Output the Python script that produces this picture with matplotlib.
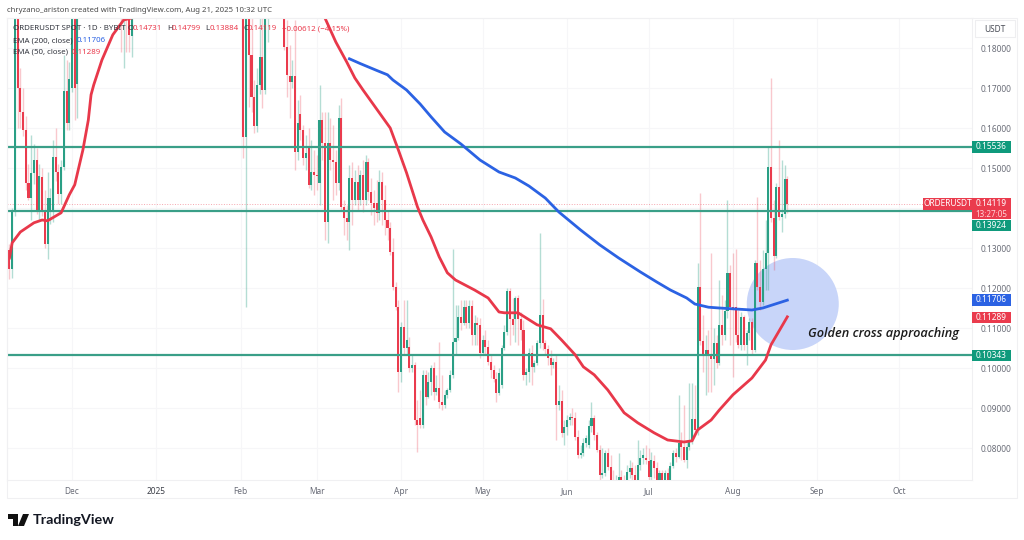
import matplotlib
matplotlib.use('Agg')
import matplotlib.pyplot as plt
import numpy as np
from matplotlib.patches import Circle, Ellipse, Rectangle, Polygon

plt.rcParams['font.family'] = ['Noto Sans', 'DejaVu Sans']

# candles, day numbers counted from 1 Dec 2024. Days above the visible price range are left out.
days = list(range(-23, 3)) + list(range(18, 23)) + list(range(63, 73)) + list(range(78, 264))

opens_a = [.1297,.1248,.1397,.1950,.1700,.1640,.1597,.1464,.1427,.1489,.1522,.1397,.1479,.1397,.1310,.1397,.1397,.1529,.1492,.1437,.1504,.1693,.1614,.1701,.1900,.1710]
closes_a = [.1248,.1397,.1950,.1700,.1640,.1597,.1464,.1427,.1489,.1522,.1397,.1482,.1397,.1310,.1427,.1427,.1529,.1492,.1437,.1504,.1693,.1614,.1723,.1900,.1701,.1950]
highs_a = [.1310,.1402,.2000,.1970,.1750,.1700,.1630,.1510,.1584,.1560,.1550,.1510,.1502,.1447,.1492,.1450,.1571,.1601,.1510,.1520,.1783,.1771,.1766,.1920,.1920,.2000]
lows_a = [.1223,.1226,.1380,.1600,.1600,.1580,.1447,.1422,.1372,.1460,.1385,.1372,.1382,.1302,.1273,.1360,.1367,.1468,.1410,.1410,.1497,.1596,.1596,.1691,.1621,.1626]

opens_b = [.2000,.1950,.1980,.1950,.1830]
closes_b = [.1950,.1980,.1950,.1833,.1950]
highs_b = [.2050,.2050,.2050,.2000,.2000]
lows_b = [.1791,.1751,.1791,.1791,.1778]

opens_c = [.2000,.1579,.2000,.1783,.1678,.1606,.1708,.1778,.1696,.1950]
closes_c = [.1579,.2000,.1783,.1678,.1606,.1708,.1778,.1696,.1950,.1980]
highs_c = [.2000,.2100,.2000,.1900,.1720,.1750,.1900,.1900,.2000,.2000]
lows_c = [.1527,.1153,.1653,.1640,.1589,.1590,.1685,.1651,.1685,.1815]

opens_d = [.2000,.1804,.1731,.1716,.1731,.1541,.1636,.1596,.1526,.1551,.1459,.1491,.1484,.1464,.1621,.1564,.1366,.1564,.1521,.1516,.1464,.1626,.1404,.1376,.1366,
 .1476,.1421,.1466,.1421,.1484,.1421,.1516,.1441,.1414,.1414,.1389,.1466,.1421,.1371,.1351,.1291,.1204,.1154,.0991,.1104,.1051,.1054,.1001,.1009,.0871,
 .0876,.0859,.0984,.0929,.0966,.1001,.0941,.0951,.0916,.0909,.0934,.0946,.0984,.1066,.1076,.1129,.1114,.1154,.1114,.1156,.1084,.1114,.1109,.1039,.1071,
 .1054,.1016,.0996,.0974,.0939,.0959,.1051,.1091,.1194,.1124,.1124,.1176,.1124,.1096,.0984,.0991,.1039,.1004,.1014,.1064,.1134,.1064,.1049,.1026,.1009,
 .1016,.0909,.0919,.0839,.0854,.0871,.0879,.0876,.0829,.0784,.0789,.0814,.0809,.0856,.0876,.0834,.0796,.0734,.0739,.0789,.0754,.0709,.0701,.0709,.0729,
 .0709,.0701,.0741,.0751,.0734,.0709,.0759,.0776,.0776,.0769,.0729,.0769,.0751,.0709,.0739,.0721,.0739,.0709,.0756,.0789,.0779,.0814,.0804,.0771,.0804,
 .0821,.0874,.0846,.1204,.1069,.1034,.1046,.1031,.1024,.1064,.1014,.1109,.1084,.1144,.1239,.1154,.1154,.1084,.1059,.1129,.1059,.1089,.1116,.1046,.1264,
 .1204,.1166,.1249,.1289,.1504,.1376,.1281,.1454,.1379,.1386,.14731]
closes_d = [.1804,.1733,.1716,.1731,.1541,.1614,.1596,.1526,.1539,.1459,.1491,.1484,.1481,.1621,.1564,.1366,.1564,.1521,.1516,.1464,.1626,.1404,.1376,.1366,.1476,
 .1421,.1466,.1421,.1484,.1421,.1516,.1441,.1414,.1401,.1389,.1466,.1421,.1371,.1351,.1291,.1204,.1154,.0991,.1104,.1051,.1071,.1001,.1009,.0871,.0859,
 .0859,.0984,.0929,.0966,.1001,.0941,.0951,.0916,.0909,.0934,.0946,.0984,.1066,.1076,.1129,.1114,.1154,.1114,.1156,.1084,.1114,.1109,.1039,.1071,.1054,
 .1016,.0996,.0974,.0939,.0989,.1051,.1091,.1194,.1124,.1109,.1176,.1124,.1096,.0984,.0991,.1039,.1004,.1014,.1064,.1134,.1064,.1049,.1026,.1009,.1016,
 .0909,.0919,.0839,.0854,.0871,.0879,.0876,.0829,.0784,.0789,.0814,.0826,.0856,.0876,.0834,.0796,.0734,.0739,.0789,.0754,.0709,.0701,.0709,.0729,.0709,
 .0701,.0741,.0751,.0734,.0709,.0759,.0776,.0784,.0771,.0729,.0771,.0751,.0709,.0739,.0721,.0739,.0709,.0756,.0789,.0779,.0814,.0804,.0771,.0804,.0821,
 .0874,.0846,.1204,.1069,.1034,.1046,.1031,.1024,.1064,.1014,.1109,.1084,.1144,.1239,.1154,.1146,.1084,.1059,.1129,.1059,.1089,.1116,.1046,.1264,.1204,
 .1166,.1249,.1289,.1504,.1376,.1281,.1454,.1379,.1386,.1474,.14119]
highs_d = [.2000,.1871,.1809,.1771,.1871,.1671,.1684,.1609,.1584,.1601,.1571,.1546,.1534,.1709,.1641,.1641,.1641,.1626,.1609,.1546,.1659,.1676,.1421,.1409,.1509,
 .1516,.1496,.1509,.1496,.1521,.1534,.1526,.1476,.1446,.1471,.1496,.1491,.1459,.1396,.1366,.1326,.1216,.1171,.1116,.1171,.1171,.1079,.1034,.1016,.0921,
 .0946,.0996,.0996,.0991,.1009,.1016,.0984,.1066,.0984,.0946,.0951,.0996,.1299,.1159,.1159,.1171,.1171,.1171,.1171,.1171,.1134,.1129,.1126,.1084,.1096,
 .1071,.1034,.1009,.0991,.1001,.1059,.1109,.1201,.1201,.1176,.1181,.1184,.1141,.1121,.1001,.1051,.1059,.1021,.1071,.1339,.1174,.1071,.1059,.1046,.1026,
 .1034,.0959,.0946,.0871,.0884,.0889,.0901,.0891,.0846,.0809,.0826,.0834,.0871,.0916,.0884,.0841,.0809,.0801,.0796,.0801,.0784,.0746,.0734,.0789,.0746,
 .0734,.0759,.0771,.0766,.0759,.0821,.0796,.0801,.0809,.0801,.0791,.0784,.0766,.0746,.0746,.0746,.0751,.0766,.0796,.0801,.0934,.0841,.0909,.0821,.0964,
 .0964,.0959,.1264,.1439,.1134,.1084,.1096,.1289,.1101,.1084,.1221,.1184,.1171,.1421,.1259,.1289,.1299,.1146,.1141,.1134,.1096,.1126,.1126,.1271,.1429,
 .1271,.1296,.1371,.1554,.1726,.1421,.1464,.1571,.1521,.1509,.14799]
lows_d = [.1796,.1679,.1626,.1701,.1496,.1521,.1571,.1509,.1496,.1451,.1446,.1434,.1446,.1409,.1521,.1321,.1314,.1496,.1421,.1434,.1446,.1396,.1334,.1321,.1296,
 .1359,.1409,.1396,.1409,.1391,.1409,.1421,.1384,.1359,.1366,.1371,.1359,.1334,.1321,.1284,.1196,.1146,.0941,.0966,.1034,.1034,.0991,.0991,.0859,.0791,
 .0851,.0851,.0909,.0926,.0934,.0921,.0934,.0901,.0896,.0901,.0926,.0941,.0976,.1034,.1071,.1096,.1109,.1101,.1101,.1059,.1059,.1059,.1026,.1034,.1034,
 .1009,.0976,.0966,.0916,.0934,.0951,.1046,.1084,.1059,.1084,.1066,.1059,.1071,.0971,.0959,.0966,.0959,.0991,.1009,.1051,.1046,.1034,.1009,.0984,.1001,
 .0821,.0896,.0829,.0809,.0834,.0859,.0859,.0821,.0776,.0776,.0781,.0804,.0801,.0841,.0821,.0791,.0721,.0726,.0731,.0746,.0696,.0684,.0684,.0696,.0696,
 .0684,.0696,.0726,.0721,.0696,.0701,.0746,.0761,.0761,.0721,.0721,.0726,.0696,.0701,.0709,.0709,.0696,.0701,.0751,.0766,.0776,.0771,.0766,.0751,.0796,
 .0811,.0841,.0834,.1059,.0991,.0934,.0941,.0941,.0959,.1001,.1009,.1059,.1071,.1126,.1059,.0979,.1066,.1051,.1046,.1046,.1009,.1071,.1034,.1041,.1196,
 .1146,.1159,.1196,.1196,.1366,.1246,.1276,.1371,.1341,.1376,.13884]

ema50_days = [-23,-22,-19,-14,-11,-9,-4,-1,1,4,6,7,8,11,15,19,22,40,70,85,93,97,101,104,107,113,117,120,123,127,129,132,135,138,141,148,153,157,159,164,171,176,180,185,188,192,197,203,208,214,219,225,228,230,235,238,243,250,255,257,263]
ema50_vals = [.1276,.1314,.1341,.1364,.1371,.1369,.1389,.1434,.1459,.1546,.1621,.1684,.1709,.1771,.1834,.1871,.1876,.2150,.2250,.1950,.1876,.1816,.1766,.1726,.1696,.1639,.1601,.1546,.1489,.1404,.1371,.1329,.1279,.1239,.1221,.1196,.1176,.1141,.1139,.1139,.1109,.1099,.1071,.1034,.1004,.0984,.0946,.0889,.0864,.0839,.0821,.0816,.0819,.0846,.0871,.0896,.0934,.0976,.1021,.1059,.11289]
ema200_days = [102,106,112,116,118,123,128,132,137,143,150,157,163,168,174,179,187,194,201,209,215,220,226,229,234,238,250,254,263]
ema200_vals = [.1774,.1762,.1745,.1734,.1721,.1696,.1661,.1629,.1591,.1561,.1521,.1491,.1476,.1456,.1426,.1391,.1346,.1309,.1276,.1241,.1216,.1196,.1176,.1161,.1153,.1151,.1146,.1151,.11706]

level_prices = [.15536, .13924, .10343]
level_labels = ['0.15536', '0.13924', '0.10343']
last_price = .14119

month_days = [0, 31, 62, 90, 121, 151, 182, 212, 243, 274, 304]
month_labels = ['Dec', '2025', 'Feb', 'Mar', 'Apr', 'May', 'Jun', 'Jul', 'Aug', 'Sep', 'Oct']
price_ticks = [.08, .09, .10, .11, .12, .13, .14, .15, .16, .17, .18]

GREEN = '#2a9f85'
LEVEL = '#3a9f88'
RED = '#ea3b4d'
BLUE = '#2b62e3'
EMA_RED = '#e8384a'
GREY = '#6a6d78'

W, H = 1024, 540


def px_text(x, y, s, **kw):
    # place text on the figure by reference pixel, y measured from the top
    kw.setdefault('fontsize', 5.7)
    kw.setdefault('va', 'center')
    return fig.text(x / W, 1 - y / H, s, **kw)


def price_tag(y_top, y_bot, text, color, x0=972, x1=1011):
    fig.add_artist(Rectangle((x0 / W, 1 - y_bot / H), (x1 - x0) / W, (y_bot - y_top) / H,
                             transform=fig.transFigure, color=color, zorder=5, lw=0))
    px_text((x0 + x1) / 2, (y_top + y_bot) / 2, text, color='white', ha='center', zorder=6, fontsize=6)


fig = plt.figure(figsize=(W / 100, H / 100), dpi=100)
ax = fig.add_axes([7 / W, 1 - 480 / H, 965 / W, 462 / H])
ax.set_xlim(-23.9, 330.9)
ax.set_ylim(.0721, .1876)

o = np.array(opens_a + opens_b + opens_c + opens_d)
c = np.array(closes_a + closes_b + closes_c + closes_d)
h = np.array(highs_a + highs_b + highs_c + highs_d)
l = np.array(lows_a + lows_b + lows_c + lows_d)
d = np.array(days)
up = c >= o

ax.add_patch(Ellipse((265, .1161), 92 / 2.72, .023, color='#c8d5f9', lw=0, zorder=1))

ax.vlines(d[up], l[up], h[up], color=GREEN, alpha=.35, lw=1, zorder=2)
ax.vlines(d[~up], l[~up], h[~up], color=RED, alpha=.28, lw=1, zorder=2)
ax.bar(d[up], (c - o)[up], bottom=o[up], width=.75, color=GREEN, lw=0, zorder=3)
ax.bar(d[~up], (c - o)[~up], bottom=o[~up], width=.75, color=RED, lw=0, zorder=3)

ax.axhline(last_price, color=RED, lw=.7, ls=':', alpha=.45, zorder=2)
for p in level_prices:
    ax.axhline(p, color=LEVEL, lw=1.6, zorder=4)

ax.plot(ema200_days, ema200_vals, color=BLUE, lw=2, zorder=5, solid_joinstyle='round')
ax.plot(ema50_days, ema50_vals, color=EMA_RED, lw=2, zorder=5, solid_joinstyle='round')

ax.set_xticks(month_days)
ax.set_xticklabels(month_labels, fontsize=6, color=GREY)
ax.get_xticklabels()[1].set_fontweight('bold')
ax.get_xticklabels()[1].set_color('#3c3f48')
ax.yaxis.tick_right()
ax.set_yticks(price_ticks)
# the 0.14 label sits under the price tags in the reference
ax.set_yticklabels(['' if p == .14 else '%.5f' % p for p in price_ticks], fontsize=6, color=GREY)
ax.tick_params(length=0, axis='x', pad=5)
ax.tick_params(length=0, axis='y', pad=6)
ax.grid(True, color='#f6f6f8', lw=.8, zorder=0)
ax.set_axisbelow(True)
for s in ax.spines.values():
    s.set_color('#f0f0f2')
    s.set_linewidth(.8)

# outer pane edge
fig.add_artist(Rectangle((7 / W, 1 - 498 / H), 1010 / W, 480 / H, transform=fig.transFigure,
                         fill=False, ec='#f0f0f2', lw=.8))
fig.add_artist(Rectangle((975 / W, 1 - 37 / H), 40 / W, 17 / H, transform=fig.transFigure,
                         fill=False, ec='#eeeeF0', lw=.8))
px_text(995, 29, 'USDT', color='#4a4d57', ha='center', fontsize=6)

px_text(7, 10, 'chryzano_ariston created with TradingView.com, Aug 21, 2025 10:32 UTC', color='#4a4a4a', fontsize=5.6)

px_text(13, 29, 'ORDERUSDT SPOT · 1D · BYBIT', color='#33363f')
for x, s in [(128, 'O'), (167, 'H'), (205, 'L'), (243, 'C')]:
    px_text(x, 29, s, color='#33363f')
for x, s in [(133, '0.14731'), (172, '0.14799'), (210, '0.13884'), (248, '0.14119'), (282, '−0.00612 (−4.15%)')]:
    px_text(x, 29, s, color=RED)
px_text(13, 41, 'EMA (200, close)', color='#33363f')
px_text(77, 41, '0.11706', color=BLUE)
px_text(13, 52, 'EMA (50, close)', color='#33363f')
px_text(72, 52, '0.11289', color=RED)

price_tag(141, 153, level_labels[0], '#0f9a7c')
price_tag(220, 231, level_labels[1], '#0f9a7c')
price_tag(198, 219, '', RED)
px_text(991, 204, '0.14119', color='white', ha='center', zorder=7, fontsize=6)
px_text(991, 214, '13:27:05', color='#ffd5d9', ha='center', zorder=7, fontsize=5.8)
price_tag(198, 210, 'ORDERUSDT', RED, x0=923, x1=972)
price_tag(294, 306, '0.11706', BLUE)
price_tag(312, 323, '0.11289', RED)
price_tag(350, 361, level_labels[2], '#0f9a7c')

px_text(808, 334, 'Golden cross approaching', color='#1c1c1c', style='italic', fontsize=9.2,
        family='Open Sans', fontweight='semibold', zorder=8)

# logo mark and wordmark
fig.add_artist(Polygon([(8 / W, 1 - 514 / H), (18 / W, 1 - 514 / H), (18 / W, 1 - 526 / H), (13 / W, 1 - 526 / H),
                        (13 / W, 1 - 519 / H), (8 / W, 1 - 519 / H)], transform=fig.transFigure, color='#111111', lw=0))
fig.add_artist(Polygon([(23 / W, 1 - 514 / H), (29 / W, 1 - 514 / H), (24 / W, 1 - 526 / H), (18 / W, 1 - 526 / H)],
                       transform=fig.transFigure, color='#111111', lw=0))
px_text(33, 520, 'TradingView', color='#131722', fontsize=10.4, family='Lato', fontweight='bold')

fig.savefig('out.png', dpi=100)
